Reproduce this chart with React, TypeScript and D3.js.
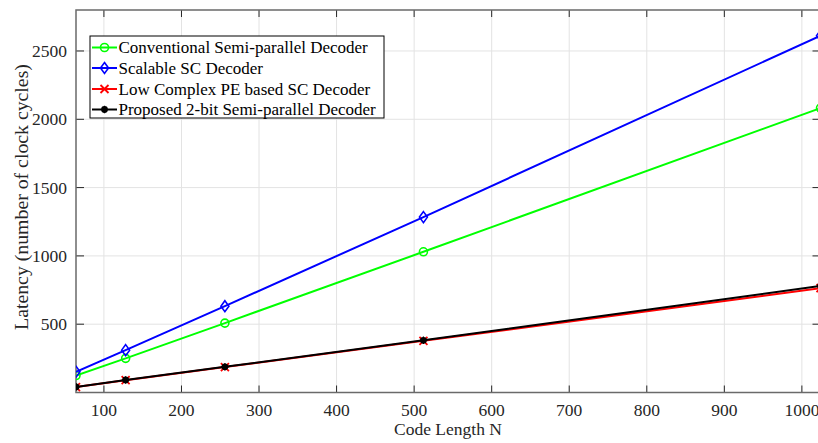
import React from "react";
import * as d3 from "d3";

const codeLengths = [64, 128, 256, 512, 1024];
const conventional = [124, 250, 508, 1030, 2082];
const scalable = [152, 310, 632, 1284, 2612];
const lowComplex = [40, 90, 186, 378, 764];
const proposed = [41, 92, 188, 382, 780];

const xTicks = [100, 200, 300, 400, 500, 600, 700, 800, 900, 1000];
const yTicks = [500, 1000, 1500, 2000, 2500];

const seriesNames = [
  "Conventional Semi-parallel Decoder",
  "Scalable SC Decoder",
  "Low Complex PE based SC Decoder",
  "Proposed 2-bit Semi-parallel Decoder",
];

const W = 830;
const H = 443;
const left = 76;
const right = 820.5;
const top = 10;
const bottom = 392.5;
const font = "'Liberation Serif', 'Times New Roman', serif";
const textCol = "#262626";

const x = d3.scaleLinear().domain([64, 1024]).range([left, right]);
const y = d3.scaleLinear().domain([0, 2800]).range([bottom, top]);

type Kind = "circle" | "diamond" | "x" | "star";

const series: { name: string; values: number[]; color: string; kind: Kind }[] = [
  { name: seriesNames[0], values: conventional, color: "#00ff00", kind: "circle" },
  { name: seriesNames[1], values: scalable, color: "#0000ff", kind: "diamond" },
  { name: seriesNames[2], values: lowComplex, color: "#ff0000", kind: "x" },
  { name: seriesNames[3], values: proposed, color: "#000000", kind: "star" },
];

const Marker = ({ cx, cy, kind, color }: { cx: number; cy: number; kind: Kind; color: string }) => {
  if (kind === "circle")
    return <circle cx={cx} cy={cy} r={4} fill="none" stroke={color} strokeWidth={1.6} />;
  if (kind === "diamond")
    return (
      <path
        d={`M${cx},${cy - 5.5}L${cx + 4},${cy}L${cx},${cy + 5.5}L${cx - 4},${cy}Z`}
        fill="none"
        stroke={color}
        strokeWidth={1.6}
      />
    );
  if (kind === "x") {
    const s = 4;
    return (
      <path
        d={`M${cx - s},${cy - s}L${cx + s},${cy + s}M${cx - s},${cy + s}L${cx + s},${cy - s}`}
        stroke={color}
        strokeWidth={1.8}
      />
    );
  }
  const s = 3.8;
  return (
    <g>
      <circle cx={cx} cy={cy} r={3.4} fill={color} />
      <path
        d={`M${cx - s},${cy}L${cx + s},${cy}M${cx},${cy - s}L${cx},${cy + s}`}
        stroke={color}
        strokeWidth={1.2}
      />
    </g>
  );
};

const App = () => {
  const line = d3
    .line<number>()
    .x((_, i) => x(codeLengths[i]))
    .y(d => y(d));

  const legX = 90;
  const legY = 36;
  const legW = 294;
  const legH = 82;
  const rowY = [47.5, 68, 89, 109.5];

  return (
    <div style={{ position: "fixed", left: 0, top: 0, width: 818, height: 443, overflow: "hidden", background: "#fff" }}>
      <svg width={W} height={H} style={{ display: "block" }} fontFamily={font}>
        <rect x={0} y={0} width={W} height={H} fill="#fff" />
        <defs>
          <clipPath id="plot">
            <rect x={left} y={top} width={right - left} height={bottom - top} />
          </clipPath>
        </defs>

        {/* grid */}
        <g stroke="#e3e3e3" strokeWidth={1}>
          {xTicks.map(t => (
            <line key={t} x1={x(t)} x2={x(t)} y1={top} y2={bottom} />
          ))}
          {yTicks.map(t => (
            <line key={t} x1={left} x2={right} y1={y(t)} y2={y(t)} />
          ))}
        </g>

        {/* ticks */}
        <g stroke={textCol} strokeWidth={1}>
          {xTicks.map(t => (
            <g key={t}>
              <line x1={x(t)} x2={x(t)} y1={bottom} y2={bottom - 7} />
              <line x1={x(t)} x2={x(t)} y1={top} y2={top + 7} />
            </g>
          ))}
          {yTicks.map(t => (
            <g key={t}>
              <line x1={left} x2={left + 8} y1={y(t)} y2={y(t)} />
              <line x1={right} x2={right - 8} y1={y(t)} y2={y(t)} />
            </g>
          ))}
        </g>

        {/* box */}
        <rect x={left} y={top} width={right - left} height={bottom - top} fill="none" stroke="#6a6a6a" strokeWidth={1.5} />

        {/* data */}
        <g clipPath="url(#plot)">
          {series.map(s => (
            <g key={s.name}>
              <path d={line(s.values) || ""} fill="none" stroke={s.color} strokeWidth={2} />
              {s.values.map((v, i) => (
                <Marker key={i} cx={x(codeLengths[i])} cy={y(v)} kind={s.kind} color={s.color} />
              ))}
            </g>
          ))}
        </g>

        {/* tick labels */}
        <g fill={textCol} fontSize={17.5}>
          {xTicks.map(t => (
            <text key={t} x={x(t)} y={416} textAnchor="middle">
              {t}
            </text>
          ))}
          {yTicks.map(t => (
            <text key={t} x={67} y={y(t)} textAnchor="end" dominantBaseline="central">
              {t}
            </text>
          ))}
        </g>

        {/* axis titles */}
        <text x={448} y={435} textAnchor="middle" fontSize={17.5} fill={textCol}>
          Code Length N
        </text>
        <text
          transform={`translate(27.5,197) rotate(-90)`}
          textAnchor="middle"
          fontSize={19.8}
          fill={textCol}
        >
          Latency (number of clock cycles)
        </text>

        {/* legend */}
        <rect x={legX} y={legY} width={legW} height={legH} fill="#fff" stroke="#000" strokeWidth={1} />
        {series.map((s, i) => (
          <g key={s.name}>
            <line x1={92} x2={117} y1={rowY[i]} y2={rowY[i]} stroke={s.color} strokeWidth={2} />
            <Marker cx={104.5} cy={rowY[i]} kind={s.kind} color={s.color} />
            <text x={118.5} y={rowY[i]} dominantBaseline="central" fontSize={17} fill="#000">
              {s.name}
            </text>
          </g>
        ))}
      </svg>
    </div>
  );
};

export default App;
